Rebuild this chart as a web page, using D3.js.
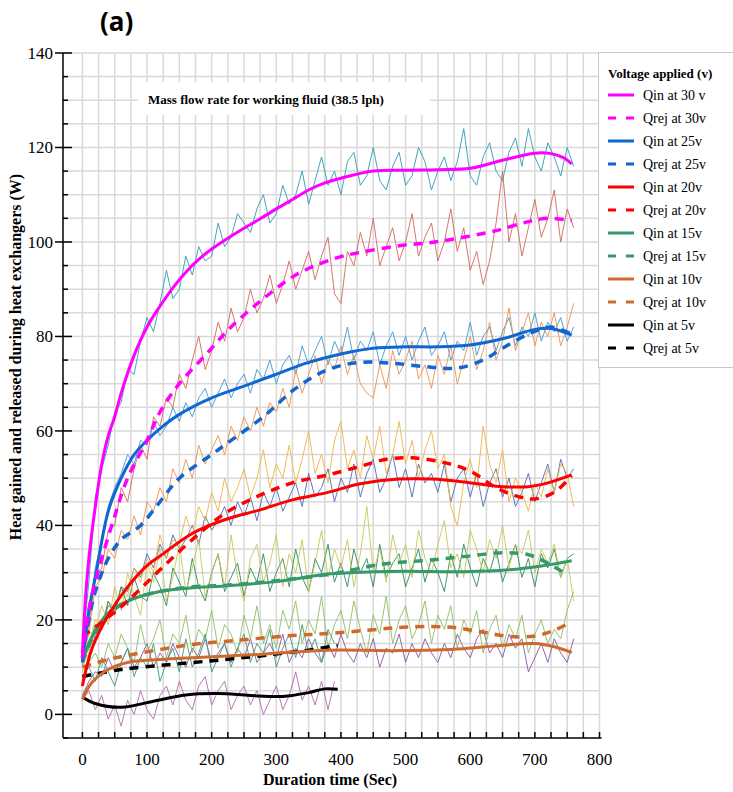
<html>
<head>
<meta charset="utf-8">
<script src="https://d3js.org/d3.v7.min.js"></script>
<style>
  body { margin: 0; background: #fff; }
  text { fill: #000; }
</style>
</head>
<body>
<div id="chart"></div>
<script>
// ---- data ----
var xTicks = [0, 100, 200, 300, 400, 500, 600, 700, 800];
var yTicks = [0, 20, 40, 60, 80, 100, 120, 140];
var seriesNames = ["Qin at 30 v", "Qrej at 30v", "Qin at 25v", "Qrej at 25v", "Qin at 20v", "Qrej at 20v",
                   "Qin at 15v", "Qrej at 15v", "Qin at 10v", "Qrej at 10v", "Qin at 5v", "Qrej at 5v"];
var lineColors = ["#ff00ff", "#ff00ff", "#1166d0", "#1166d0", "#ff0000", "#ff0000",
                  "#36996a", "#36996a", "#cf6a2f", "#cf6a2f", "#000000", "#000000"];
var rawColors = ["#2f9bb7", "#d0685a", "#3d9ad1", "#ec9150", "#4a6db8", "#f0b445",
                 "#2e8b5a", "#c9c655", "#8a559e", "#8dbf62", "#b06ab0", "#3d9c78"];

// fitted (smooth) curves: [time s, W]
var fitQin30 = [[0,13],[5,25],[10,33],[20,44],[30,53],[40,59],[50,63],[60,68],[80,76],[100,82],[120,86.4],[140,90.3],[160,93.6],[180,96.3],[200,98.5],[225,100.8],[250,102.9],[275,104.9],[300,107],[325,109],[350,111],[375,112.5],[400,113.5],[450,115],[500,115.2],[550,115.3],[600,115.6],[650,117.3],[700,118.8],[725,118.7],[745,117.8],[757,116.5]];
var fitQrej30 = [[0,12],[10,22],[20,28],[30,33],[50,42],[70,50],[100,58],[120,64],[150,70],[190,76],[230,82],[280,88],[330,93],[390,96.5],[430,97.8],[490,99.2],[540,99.9],[590,101],[640,102.4],[690,104.3],[720,105],[757,104.5]];
var fitQin25 = [[0,11],[10,22],[20,29],[40,43],[60,50],[80,55],[100,58],[120,60.5],[150,63.5],[200,67],[250,69.5],[300,72],[350,74.5],[400,76.3],[450,77.5],[500,77.8],[550,77.8],[600,78.2],[650,79.5],[700,81.5],[725,81.7],[757,80.3]];
var fitQrej25 = [[0,12],[10,20],[20,26],[40,33],[60,37],[90,40],[120,45],[150,50],[200,55],[230,58],[280,63],[330,69],[380,73],[430,74.5],[480,74.3],[540,73.5],[580,73.3],[620,75],[650,77.5],[690,80.5],[725,82],[757,80.5]];
var fitQin20 = [[0,6],[15,14],[40,21],[70,27],[100,31.5],[120,33.5],[170,38.3],[220,41.2],[275,43.3],[325,45.4],[380,47],[430,48.8],[490,49.8],[540,49.8],[590,49.2],[640,48.3],[690,48.2],[720,49],[757,50.7]];
var fitQrej20 = [[0,16.5],[30,19.5],[70,24],[120,30.6],[170,37],[220,42.5],[275,46.4],[325,49],[380,50.7],[430,52.5],[470,54],[510,54.3],[560,53.3],[600,51.5],[640,48],[670,46.3],[700,45.6],[730,47],[757,50.5]];
var fitQin15 = [[0,11.5],[15,16.5],[40,21.5],[70,24],[120,26],[170,26.8],[220,27.2],[300,28.1],[380,29.7],[450,30.2],[500,30.3],[590,30.2],[660,30.6],[710,31.4],[757,32.5]];
var fitQrej15 = [[0,11],[15,16],[40,21],[70,24],[120,26],[170,27],[220,27.3],[300,28.3],[380,29.6],[460,31.7],[540,32.7],[590,33.4],[650,34.2],[690,33.8],[720,32],[745,30]];
var fitQin10 = [[0,3.2],[15,6.8],[40,9.5],[70,11],[120,11.6],[170,12],[275,12.7],[380,13.6],[490,13.5],[590,13.9],[640,14.5],[700,15],[730,14.3],[757,13.1]];
var fitQrej10 = [[0,10],[40,11.6],[90,13],[170,14.8],[250,15.8],[325,16.7],[380,17.1],[440,17.8],[490,18.4],[540,18.6],[580,18.3],[620,17.4],[660,16.5],[700,16.6],[730,17.8],[757,19.6]];
var fitQin5 = [[0,3.7],[20,2.3],[60,1.5],[110,2.8],[160,4.1],[210,4.4],[260,4],[310,3.8],[350,4.6],[375,5.4],[395,5.3]];
var fitQrej5 = [[0,8],[60,9.5],[140,10.6],[220,11.6],[295,12.7],[350,13.6],[395,14.6]];

// measured (raw) readings every 10 s
var rawTime = d3.range(0, 761, 10);
var rawTime5 = d3.range(0, 391, 10);
var rawQin30 = [14,28,46,52,57,64,66,73,72,79,
	84,81,87,94,88,90,97,93,99,96,
	97,104,99,101,106,104,102,107,110,104,
	106,112,108,110,115,108,113,118,112,115,
	110,117,119,112,114,120,113,111,116,119,
	112,114,120,117,111,115,118,113,117,124,
	114,112,118,121,115,113,119,122,116,124,
	118,115,121,118,114,120,116];
var rawQrej30 = [12,19,29,31,39,40,48,45,52,57,
	54,63,61,67,65,72,69,75,80,73,
	77,83,79,86,81,84,90,85,88,93,
	87,91,96,90,94,98,92,97,101,89,
	87,98,95,102,97,105,95,99,103,96,
	100,106,97,101,104,96,100,107,98,103,
	94,98,91,96,104,115,100,106,97,103,
	109,101,105,111,100,107,103];
var rawQin25 = [10,20,31,37,44,48,51,55,53,58,
	57,62,59,61,65,62,66,63,67,69,
	65,68,71,67,70,72,68,73,71,75,
	70,74,76,72,78,74,77,80,74,79,
	76,82,75,79,77,81,74,78,81,76,
	80,75,79,82,76,78,81,75,79,77,
	83,76,80,82,77,81,84,78,82,80,
	85,79,83,81,84,79,82];
var rawQrej25 = [12,17,27,29,35,33,39,37,42,38,
	45,43,48,45,52,49,54,50,57,53,
	56,59,55,61,58,63,60,65,61,66,
	64,69,65,73,68,72,76,70,75,73,
	78,72,76,70,68,67,74,69,77,72,
	75,79,71,74,69,76,72,78,70,75,
	80,73,77,83,75,79,86,77,81,85,
	78,83,80,85,78,82,87];
var rawQin20 = [7,11,17,19,23,22,27,26,31,29,
	34,31,36,33,38,35,37,40,36,42,
	39,41,44,40,45,42,46,41,47,44,
	48,43,46,49,44,51,46,48,52,45,
	50,47,53,46,51,54,47,50,55,48,
	52,46,53,49,51,47,53,45,50,52,
	46,51,44,49,52,46,50,44,47,51,
	45,49,53,47,54,50,52];
var rawQrej20 = [16,15,20,19,24,22,27,25,31,28,
	33,30,38,33,37,36,42,38,44,41,
	47,43,50,45,48,52,46,50,56,48,
	53,50,57,49,54,60,51,55,49,58,
	62,52,56,50,59,54,61,51,55,62,
	53,58,50,56,60,52,55,44,40,49,
	54,48,61,53,49,56,45,50,47,43,
	49,46,52,47,53,51,44];
var rawQin15 = [11,14,19,18,24,21,27,23,29,25,
	24,30,27,23,31,28,25,33,27,24,
	30,34,26,29,32,25,31,28,34,26,
	30,33,27,35,29,26,33,30,36,28,
	32,27,35,30,33,27,36,29,32,34,
	27,31,35,28,33,30,26,34,29,36,
	31,27,33,30,35,28,32,36,29,33,
	27,34,31,35,29,33,34];
var rawQrej15 = [10,13,18,23,19,27,22,30,25,21,
	32,28,35,24,29,36,26,31,37,25,
	30,34,27,38,29,24,33,36,28,32,
	38,27,34,30,37,26,32,39,29,35,
	31,37,27,34,44,30,35,28,38,32,
	36,29,39,33,30,36,41,31,34,29,
	39,35,30,37,33,40,31,36,34,39,
	30,35,32,36,29,33,24];
var rawQin10 = [4,7,9,8,12,9,11,14,10,12,
	15,10,13,11,15,12,10,14,12,16,
	11,13,15,11,14,12,16,11,13,15,
	12,17,11,14,12,16,13,11,15,12,
	17,13,11,15,12,16,10,14,13,17,
	11,15,12,16,13,11,15,12,17,14,
	12,16,18,13,15,12,17,14,16,9,
	12,15,11,16,13,11,16];
var rawQrej10 = [9,11,13,10,15,12,17,14,11,19,
	13,16,20,12,17,15,21,13,18,16,
	22,14,19,17,13,21,16,23,15,19,
	14,22,18,24,15,20,17,25,14,19,
	22,16,24,18,13,21,17,25,15,20,
	23,16,19,24,15,21,18,23,14,20,
	17,22,13,18,21,14,19,16,21,13,
	17,20,15,18,16,22,26];
var rawQin5 = [3,5,1,4,-1,2,-2.5,3,0,5,
	1,-1,4,6,2,7,3,1,6,8,
	2,5,7,1,4,6,2,5,0,3,
	6,1,4,9,3,6,2,7,1,7];
var rawQrej5 = [8,10,7,12,9,6,11,14,8,12,
	10,15,7,11,14,9,16,10,13,17,
	9,12,15,10,14,17,11,15,13,18,
	10,14,17,12,19,13,16,11,18,15];

var fits = [fitQin30, fitQrej30, fitQin25, fitQrej25, fitQin20, fitQrej20, fitQin15, fitQrej15, fitQin10, fitQrej10, fitQin5, fitQrej5];
var raws = [rawQin30, rawQrej30, rawQin25, rawQrej25, rawQin20, rawQrej20, rawQin15, rawQrej15, rawQin10, rawQrej10, rawQin5, rawQrej5];
var rawTimes = [rawTime, rawTime, rawTime, rawTime, rawTime, rawTime, rawTime, rawTime, rawTime, rawTime, rawTime5, rawTime5];

// ---- layout ----
var width = 733, height = 792;
var plotLeft = 63, plotRight = 599.5, plotTop = 53, plotBottom = 738;

var svg = d3.select("#chart").append("svg")
	.attr("width", width)
	.attr("height", height);

var x = d3.scaleLinear().domain([-30, 800]).range([plotLeft, plotRight]);
var y = d3.scaleLinear().domain([-5, 140]).range([plotBottom, plotTop]);

// grid
var grid = svg.append("g");
d3.range(0, 801, 25).forEach(function(v) {
	grid.append("line")
		.attr("x1", x(v)).attr("x2", x(v))
		.attr("y1", plotTop).attr("y2", plotBottom)
		.style("stroke", "#d9d9d9")
		.style("stroke-width", 1.5);
});
d3.range(0, 141, 5).forEach(function(v) {
	grid.append("line")
		.attr("x1", plotLeft).attr("x2", plotRight)
		.attr("y1", y(v)).attr("y2", y(v))
		.style("stroke", "#d9d9d9")
		.style("stroke-width", 1.5);
});

// annotation box
svg.append("rect")
	.attr("x", 138).attr("y", 82)
	.attr("width", 292).attr("height", 33)
	.attr("fill", "#fff");
svg.append("text")
	.attr("x", 148).attr("y", 104)
	.style("font-family", "'Liberation Serif', serif")
	.style("font-weight", "bold")
	.style("font-size", "13px")
	.text("Mass flow rate for working fluid (38.5 lph)");

// raw readings
var rawLine = d3.line()
	.x(function(d) { return x(d[0]); })
	.y(function(d) { return y(d[1]); });
raws.forEach(function(r, i) {
	var pts = r.map(function(v, k) { return [rawTimes[i][k], v]; });
	svg.append("path")
		.attr("d", rawLine(pts))
		.attr("fill", "none")
		.style("stroke", rawColors[i])
		.style("stroke-width", 1)
		.style("opacity", 0.9);
});

// fitted curves (draw bottom series first)
var fitLine = d3.line()
	.curve(d3.curveCatmullRom.alpha(0.5))
	.x(function(d) { return x(d[0]); })
	.y(function(d) { return y(d[1]); });
for (var i = fits.length - 1; i >= 0; i--) {
	var dashed = seriesNames[i].indexOf("Qrej") === 0;
	svg.append("path")
		.attr("d", fitLine(fits[i]))
		.attr("fill", "none")
		.style("stroke", lineColors[i])
		.style("stroke-width", dashed ? 3.5 : 3)
		.style("stroke-dasharray", dashed ? "9,7" : null);
}

// axes
var axes = svg.append("g").style("stroke", "#000").style("stroke-width", 1.5);
axes.append("line").attr("x1", plotLeft).attr("x2", plotLeft).attr("y1", plotTop).attr("y2", plotBottom);
axes.append("line").attr("x1", plotLeft).attr("x2", plotRight + 2).attr("y1", plotBottom).attr("y2", plotBottom);
d3.range(-5, 141, 5).forEach(function(v) {
	var major = v % 20 === 0;
	axes.append("line")
		.attr("x1", major ? plotLeft - 8 : plotLeft)
		.attr("x2", major ? plotLeft + 9 : plotLeft + 5)
		.attr("y1", y(v)).attr("y2", y(v));
});
d3.range(0, 801, 25).forEach(function(v) {
	axes.append("line")
		.attr("x1", x(v)).attr("x2", x(v))
		.attr("y1", plotBottom).attr("y2", plotBottom - 6);
});

var tickFont = "'Liberation Serif', serif";
yTicks.forEach(function(v) {
	svg.append("text")
		.attr("x", 53).attr("y", y(v) + 6)
		.style("text-anchor", "end")
		.style("font-family", tickFont)
		.style("font-size", "17px")
		.text(v);
});
xTicks.forEach(function(v) {
	svg.append("text")
		.attr("x", x(v)).attr("y", 765)
		.style("text-anchor", "middle")
		.style("font-family", tickFont)
		.style("font-size", "17px")
		.text(v);
});

svg.append("text")
	.attr("x", 330).attr("y", 785)
	.style("text-anchor", "middle")
	.style("font-family", tickFont)
	.style("font-weight", "bold")
	.style("font-size", "16px")
	.text("Duration time (Sec)");
svg.append("text")
	.attr("transform", "translate(21,357) rotate(-90)")
	.style("text-anchor", "middle")
	.style("font-family", tickFont)
	.style("font-weight", "bold")
	.style("font-size", "16px")
	.text("Heat gained and released during heat exchangers (W)");

// panel label
svg.append("text")
	.attr("x", 100).attr("y", 31)
	.style("font-family", "'Open Sans', sans-serif")
	.style("font-weight", "bold")
	.style("font-size", "26px")
	.text("(a)");

// legend
var legend = svg.append("g");
legend.append("rect")
	.attr("x", 598.5).attr("y", 52.5)
	.attr("width", 140).attr("height", 315)
	.attr("fill", "#fff")
	.style("stroke", "#c8c8c8")
	.style("stroke-width", 1);
legend.append("text")
	.attr("x", 608).attr("y", 78)
	.style("font-family", tickFont)
	.style("font-weight", "bold")
	.style("font-size", "13px")
	.text("Voltage applied (v)");
seriesNames.forEach(function(name, i) {
	var cy = 95 + i * 23;
	var dashed = name.indexOf("Qrej") === 0;
	legend.append("line")
		.attr("x1", 608).attr("x2", 634)
		.attr("y1", cy).attr("y2", cy)
		.style("stroke", lineColors[i])
		.style("stroke-width", 3)
		.style("stroke-dasharray", dashed ? "8,10" : null);
	legend.append("text")
		.attr("x", 643).attr("y", cy + 5)
		.style("font-family", tickFont)
		.style("font-size", "14px")
		.text(name);
});
</script>
</body>
</html>
